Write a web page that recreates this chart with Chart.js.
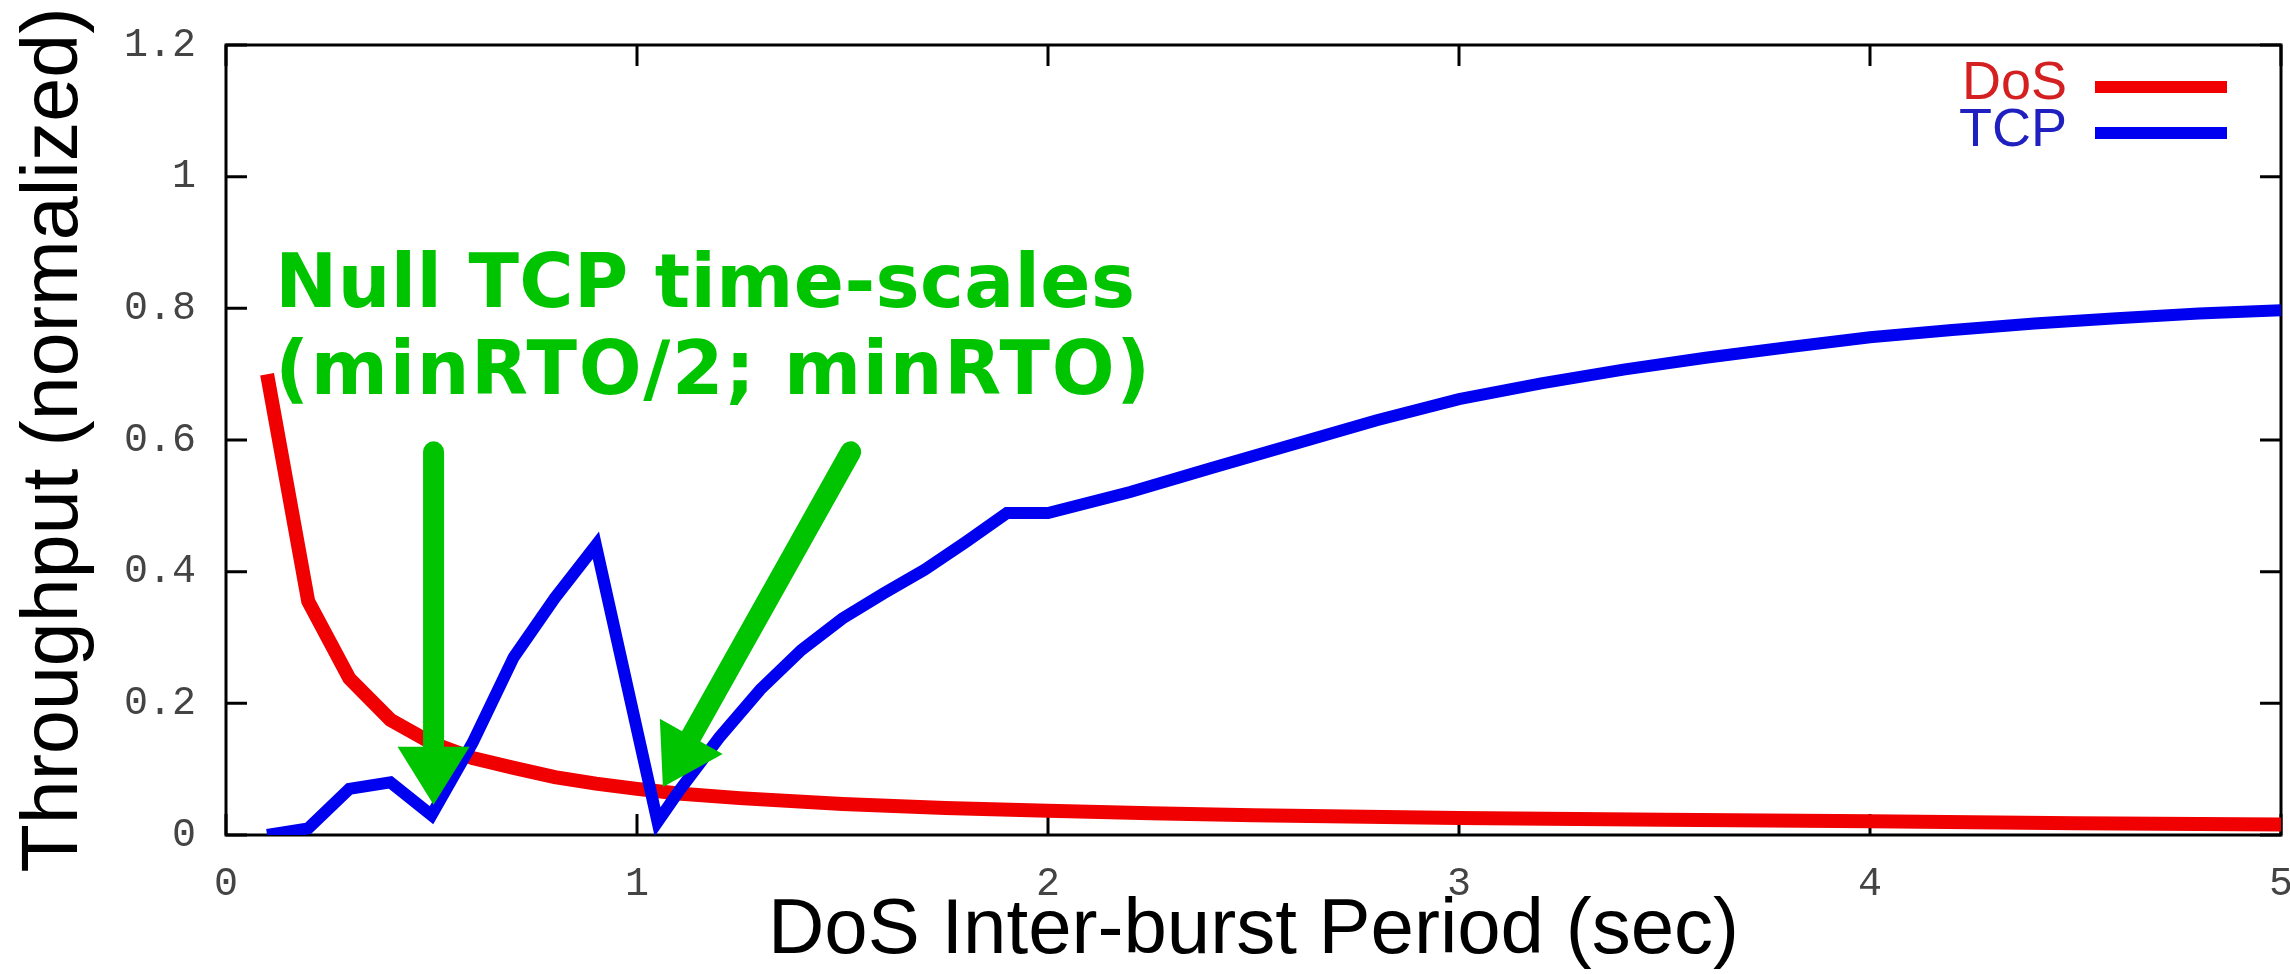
<!DOCTYPE html>
<html>
<head>
<meta charset="utf-8">
<script src="https://cdn.jsdelivr.net/npm/chart.js@4.4.0/dist/chart.umd.min.js"></script>
<style>
  html, body { margin:0; padding:0; background:#fff; }
  canvas { display:block; }
</style>
</head>
<body>
<canvas id="dosChart" width="2290" height="974"></canvas>
<script>
// values
const dosPeriod=[0.1,0.2,0.3,0.4,0.5,0.6,0.7,0.8,0.9,1.0,1.1,1.25,1.5,1.75,2.0,2.25,2.5,3.0,3.5,4.0,4.5,5.0];
const dosThroughput=[0.70,0.355,0.238,0.175,0.14,0.117,0.102,0.088,0.078,0.07,0.063,0.056,0.047,0.041,0.037,0.033,0.03,0.026,0.023,0.021,0.018,0.016];

const tcpPeriod=[0.1,0.2,0.3,0.4,0.5,0.6,0.7,0.8,0.9,1.05,1.1,1.2,1.3,1.4,1.5,1.6,1.7,1.8,1.9,2.0,2.2,2.4,2.6,2.8,3.0,3.2,3.4,3.6,3.8,4.0,4.2,4.4,4.6,4.8,5.0];
const tcpThroughput=[0.0,0.01,0.07,0.08,0.03,0.14,0.27,0.36,0.44,0.02,0.065,0.148,0.221,0.281,0.329,0.367,0.403,0.445,0.489,0.489,0.521,0.558,0.594,0.63,0.662,0.686,0.707,0.725,0.741,0.756,0.767,0.777,0.785,0.792,0.797];

const xTicks=[0,1,2,3,4,5];
const yTicks=[0,0.2,0.4,0.6,0.8,1,1.2];
const seriesNames=["DoS","TCP"];
const noteLines=["Null TCP time-scales","(minRTO/2; minRTO)"];

const toPoints=(xs,ys)=>xs.map((v,i)=>({x:v,y:ys[i]}));

// box + inward ticks on all four sides, like gnuplot
const frame={
  id:"frame",
  beforeDatasetsDraw(chart){
    const {ctx,chartArea:a,scales:{x,y}}=chart;
    ctx.save();
    ctx.strokeStyle="#000";
    ctx.lineWidth=3;
    ctx.beginPath();
    x.ticks.forEach(t=>{
      const px=x.getPixelForValue(t.value);
      ctx.moveTo(px,a.bottom); ctx.lineTo(px,a.bottom-21);
      ctx.moveTo(px,a.top); ctx.lineTo(px,a.top+21);
    });
    y.ticks.forEach(t=>{
      const py=y.getPixelForValue(t.value);
      ctx.moveTo(a.left,py); ctx.lineTo(a.left+21,py);
      ctx.moveTo(a.right,py); ctx.lineTo(a.right-21,py);
    });
    ctx.stroke();
    ctx.strokeRect(a.left,a.top,a.right-a.left,a.bottom-a.top);
    ctx.restore();
  }
};

// legend in the top right corner: name then line sample
const keyBox={
  id:"keyBox",
  afterDatasetsDraw(chart){
    const {ctx,chartArea:a}=chart;
    const textColors={DoS:"#d42020",TCP:"#2020c0"};
    ctx.save();
    ctx.font="54px 'Liberation Sans', Arial, sans-serif";
    ctx.textAlign="right";
    ctx.textBaseline="alphabetic";
    chart.data.datasets.forEach((ds,i)=>{
      ctx.fillStyle=textColors[ds.label];
      ctx.fillText(ds.label,a.right-214,a.top+54+i*47);
      ctx.strokeStyle=ds.borderColor;
      ctx.lineWidth=12;
      ctx.beginPath();
      ctx.moveTo(a.right-186,a.top+42+i*46);
      ctx.lineTo(a.right-54,a.top+42+i*46);
      ctx.stroke();
    });
    ctx.restore();
  }
};

// green note and the two arrows
const notes={
  id:"notes",
  afterDraw(chart){
    const {ctx,scales:{x,y}}=chart;
    const green="#00c400";
    ctx.save();
    ctx.fillStyle=green;
    ctx.font="bold 74px 'DejaVu Sans', Verdana, sans-serif";
    ctx.textBaseline="alphabetic";
    ctx.textAlign="left";
    const nx=x.getPixelForValue(0.12), ny=y.getPixelForValue(0.802);
    const spacing=["0.4px","1.7px"];
    noteLines.forEach((s,i)=>{
      ctx.letterSpacing=spacing[i];
      ctx.fillText(s,nx,ny+i*87);
    });
    ctx.letterSpacing="0px";

    const arrows=[{from:[0.505,0.582],to:[0.505,0.046]},{from:[1.52,0.582],to:[1.063,0.073]}];
    arrows.forEach(ar=>{
      const x0=x.getPixelForValue(ar.from[0]), y0=y.getPixelForValue(ar.from[1]);
      const x1=x.getPixelForValue(ar.to[0]), y1=y.getPixelForValue(ar.to[1]);
      const len=Math.hypot(x1-x0,y1-y0), ux=(x1-x0)/len, uy=(y1-y0)/len;
      const head=58, half=36;
      const bx=x1-ux*head, by=y1-uy*head;
      ctx.strokeStyle=green;
      ctx.lineWidth=21;
      ctx.lineCap="round";
      ctx.beginPath();
      ctx.moveTo(x0,y0);
      ctx.lineTo(bx+ux*5,by+uy*5);
      ctx.stroke();
      ctx.beginPath();
      ctx.moveTo(x1,y1);
      ctx.lineTo(bx-uy*half,by+ux*half);
      ctx.lineTo(bx+uy*half,by-ux*half);
      ctx.closePath();
      ctx.fill();
    });
    ctx.restore();
  }
};

const graph=document.getElementById("dosChart");
const dosChart=new Chart(graph,{
  type:"line",
  data:{
    datasets:[{
      label:seriesNames[0],
      data:toPoints(dosPeriod,dosThroughput),
      borderColor:"#f00000",
      borderWidth:14,
      pointRadius:0,
      tension:0,
      order:2
    },{
      label:seriesNames[1],
      data:toPoints(tcpPeriod,tcpThroughput),
      borderColor:"#0000f0",
      borderWidth:12,
      pointRadius:0,
      tension:0,
      order:1
    }]
  },
  options:{
    responsive:false,
    animation:false,
    layout:{padding:{top:45,right:9,left:0,bottom:0}},
    plugins:{legend:{display:false},tooltip:{enabled:false}},
    scales:{
      x:{
        type:"linear",
        min:0,max:5,
        grid:{display:false},
        border:{display:false},
        afterBuildTicks:s=>{s.ticks=xTicks.map(v=>({value:v}));},
        afterFit:s=>{s.height=139;s.paddingLeft=0;s.paddingRight=0;},
        ticks:{
          padding:21,
          color:"#444",
          callback:v=>String(v),
          font:{family:"'Liberation Mono', monospace",size:40,lineHeight:1}
        },
        title:{
          display:true,
          text:"DoS Inter-burst Period (sec)",
          color:"#000",
          font:{family:"'Liberation Sans', Arial, sans-serif",size:78,lineHeight:1},
          padding:{top:0,bottom:4}
        }
      },
      y:{
        min:0,max:1.2,
        grid:{display:false},
        border:{display:false},
        afterBuildTicks:s=>{s.ticks=yTicks.map(v=>({value:v}));},
        afterFit:s=>{s.width=226;},
        ticks:{
          padding:22,
          color:"#444",
          callback:v=>String(v),
          font:{family:"'Liberation Mono', monospace",size:40,lineHeight:1}
        },
        title:{
          display:true,
          text:"Throughput (normalized)",
          color:"#000",
          font:{family:"'Liberation Sans', Arial, sans-serif",size:79,lineHeight:1},
          padding:{top:16,bottom:0}
        }
      }
    }
  },
  plugins:[frame,keyBox,notes]
});
</script>
</body>
</html>
